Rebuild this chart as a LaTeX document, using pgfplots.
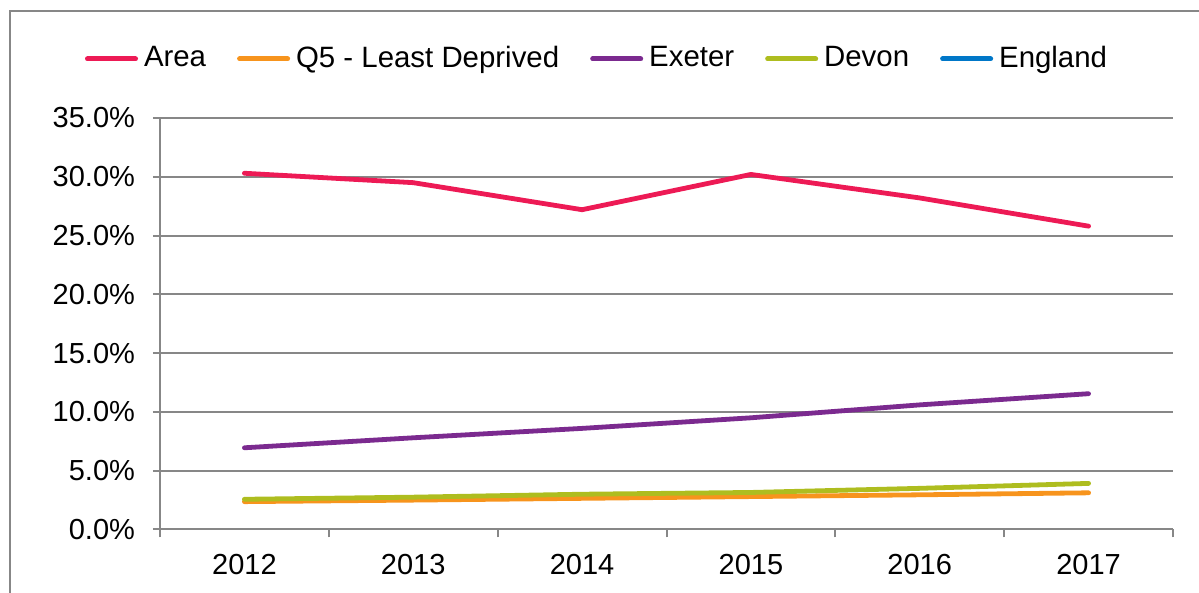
\documentclass[border=0pt]{standalone}
\usepackage{pgfplots}
\pgfplotsset{compat=1.18}
\usepackage{fontspec}
\setmainfont{Liberation Sans}
\definecolor{cArea}{HTML}{ED1A55}
\definecolor{cQ}{HTML}{F7941D}
\definecolor{cEx}{HTML}{7B2A8F}
\definecolor{cDev}{HTML}{AEBD1F}
\definecolor{cEng}{HTML}{0077C8}
\definecolor{gridgray}{HTML}{878787}
\begin{document}
\fontsize{14.5pt}{17pt}\selectfont
\begin{tikzpicture}
\path[use as bounding box] (0,0) rectangle (599.5pt,296.5pt);
\draw[gridgray, line width=0.8pt] (5pt,-2pt) -- (5pt,291pt) -- (602pt,291pt);
\begin{axis}[
  at={(80pt,31.75pt)}, anchor=south west,
  scale only axis, width=506.5pt, height=205.75pt,
  xmin=-0.5, xmax=5.5, ymin=0, ymax=35,
  xtick={0,1,2,3,4,5},
  xticklabels={2012,2013,2014,2015,2016,2017},
  minor xtick={-0.5,0.5,1.5,2.5,3.5,4.5,5.5},
  ytick={0,5,10,15,20,25,30,35},
  yticklabel={\pgfmathprintnumber[fixed,fixed zerofill,precision=1]{\tick}\%},
  /pgf/number format/assume math mode=true,
  axis x line*=bottom, axis y line*=left,
  axis line style={gridgray, line width=1pt},
  tick align=outside,
  major tick length=3.5pt, minor tick length=4pt,
  major x tick style={draw=none},
  minor x tick style={gridgray, line width=1pt},
  ytick style={gridgray, line width=1pt},
  ymajorgrids, major grid style={gridgray, line width=1pt},
  tick label style={font=\fontsize{14.5pt}{17pt}\selectfont, text=black},
  xticklabel style={yshift=-4pt},
  yticklabel style={xshift=-4pt},
  legend columns=5,
  legend style={at={(-0.07404,1.1434)}, anchor=west, draw=none, fill=none,
    inner sep=0pt, outer sep=0pt,
    font=\fontsize{14.7pt}{17pt}\selectfont,
    nodes={inner sep=1.5pt},
    /tikz/every odd column/.append style={column sep=1.5pt},
    /tikz/every even column/.append style={column sep=14pt}},
  legend image code/.code={\draw[#1, line width=2.5pt, line cap=round] (0pt,0pt) -- (24pt,0pt);},
  every axis plot/.append style={line width=2.4pt, line join=round, line cap=round},
  clip=false,
]
\addplot[cArea] coordinates {(0,30.3) (1,29.5) (2,27.2) (3,30.2) (4,28.2) (5,25.8)};
\addlegendentry{Area}
\addplot[cQ] coordinates {(0,2.37) (1,2.5) (2,2.65) (3,2.8) (4,2.95) (5,3.12)};
\addlegendentry{Q5 - Least Deprived}
\addplot[cEx] coordinates {(0,6.95) (1,7.8) (2,8.6) (3,9.5) (4,10.6) (5,11.55)};
\addlegendentry{Exeter}
\addplot[cDev] coordinates {(0,2.57) (1,2.75) (2,3.0) (3,3.15) (4,3.5) (5,3.92)};
\addlegendentry{Devon}
\addlegendimage{cEng}
\addlegendentry{England}
\end{axis}
\end{tikzpicture}
\end{document}
